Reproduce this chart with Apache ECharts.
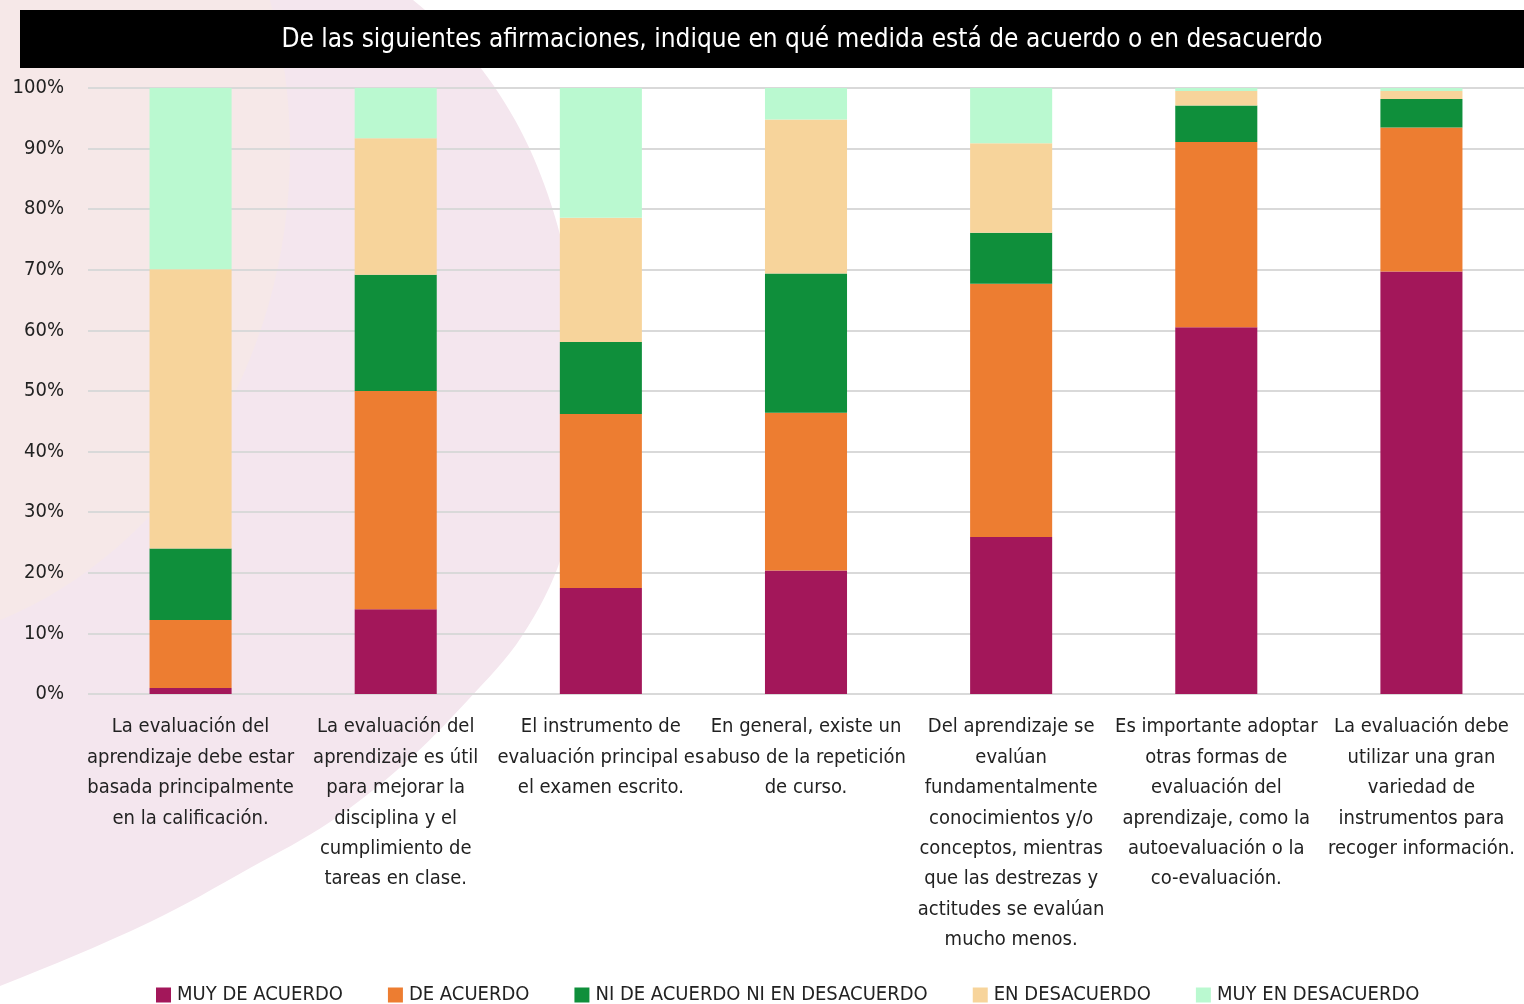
<!DOCTYPE html>
<html>
<head>
<meta charset="utf-8">
<script src="https://cdn.jsdelivr.net/npm/echarts@6/dist/echarts.min.js"></script>
<style>
html,body{margin:0;padding:0;background:#ffffff;}
#chart{width:1524px;height:1004px;}
</style>
</head>
<body>
<div id="chart"></div>
<script>
var titleText = 'De las siguientes afirmaciones, indique en qué medida está de acuerdo o en desacuerdo';
var categories = [
  'La evaluación del\naprendizaje debe estar\nbasada principalmente\nen la calificación.',
  'La evaluación del\naprendizaje es útil\npara mejorar la\ndisciplina y el\ncumplimiento de\ntareas en clase.',
  'El instrumento de\nevaluación principal es\nel examen escrito.',
  'En general, existe un\nabuso de la repetición\nde curso.',
  'Del aprendizaje se\nevalúan\nfundamentalmente\nconocimientos y/o\nconceptos, mientras\nque las destrezas y\nactitudes se evalúan\nmucho menos.',
  'Es importante adoptar\notras formas de\nevaluación del\naprendizaje, como la\nautoevaluación o la\nco-evaluación.',
  'La evaluación debe\nutilizar una gran\nvariedad de\ninstrumentos para\nrecoger información.'
];
var seriesNames = ['MUY DE ACUERDO', 'DE ACUERDO', 'NI DE ACUERDO NI EN DESACUERDO', 'EN DESACUERDO', 'MUY EN DESACUERDO'];
var muyDeAcuerdo     = [1.0, 14.0, 17.5, 20.4, 25.9, 60.5, 69.7];
var deAcuerdo        = [11.2, 36.0, 28.7, 26.0, 41.8, 30.6, 23.8];
var niNi             = [11.8, 19.2, 11.9, 23.0, 8.4, 6.0, 4.7];
var enDesacuerdo     = [46.1, 22.5, 20.5, 25.4, 14.8, 2.4, 1.3];
var muyEnDesacuerdo  = [29.9, 8.3, 21.4, 5.2, 9.1, 0.5, 0.5];
var yTicks = [0, 10, 20, 30, 40, 50, 60, 70, 80, 90, 100];
var colors = ['#A3175A', '#ED7D31', '#0F8F3B', '#F7D49B', '#BAF9D0'];

var FONT = '"DejaVu Sans Condensed", "Liberation Sans Narrow", "Noto Sans", sans-serif';
var chart = echarts.init(document.getElementById('chart'), null, {renderer: 'canvas'});
var allData = [muyDeAcuerdo, deAcuerdo, niNi, enDesacuerdo, muyEnDesacuerdo];

// decorative background blob outline (not data)
var blob = [[-400, -400], [300, -80], [413, 0], [470, 55], [515, 120], [548, 195], [570, 280], [580, 370], [578, 460], [562, 555], [522, 636], [468, 700], [404, 764], [330, 822], [250, 868], [150, 922], [0, 986], [-150, 1040], [-400, 1100]];

var option = {
  backgroundColor: '#ffffff',
  animation: false,
  color: colors,
  graphic: [
    {type: 'polygon', z: -20, silent: true, shape: {points: blob, smooth: 0.35}, style: {fill: '#F4E6EE'}},
    {type: 'ellipse', z: -19, silent: true, shape: {cx: -150, cy: 150, rx: 440, ry: 500}, style: {fill: '#F6E8E8'}},
    {type: 'rect', z: 10, silent: true, shape: {x: 20, y: 10, width: 1504, height: 58}, style: {fill: '#000000'}},
    {type: 'text', z: 11, silent: true, x: 802, y: 40, style: {text: titleText, fill: '#ffffff', font: '26px ' + FONT, textAlign: 'center', textVerticalAlign: 'middle'}}
  ],
  grid: {left: 88, right: 0, top: 88, bottom: 310, containLabel: false},
  legend: {
    data: seriesNames,
    left: 151,
    top: 980,
    itemWidth: 15,
    itemHeight: 15,
    itemGap: 45,
    icon: 'rect',
    textStyle: {fontFamily: FONT, fontSize: 20, color: '#222222', padding: [0, 0, 0, 1]}
  },
  xAxis: {
    type: 'category',
    data: categories,
    axisLine: {show: false},
    axisTick: {show: false},
    axisLabel: {interval: 0, margin: 18, fontFamily: FONT, fontSize: 20, lineHeight: 30.4, color: '#222222', align: 'center', verticalAlign: 'top'}
  },
  yAxis: {
    type: 'value',
    min: 0, max: 100, interval: 10,
    axisLine: {show: false},
    axisTick: {show: false},
    splitLine: {lineStyle: {color: '#D9D9D9', width: 2}},
    axisLabel: {formatter: '{value}%', margin: 24, fontFamily: FONT, fontSize: 20, color: '#222222'}
  },
  series: seriesNames.map(function (n, i) {
    return {
      name: n,
      type: 'bar',
      stack: 'total',
      barWidth: '40%',
      data: allData[i],
      itemStyle: {color: colors[i]}
    };
  })
};
chart.setOption(option);
</script>
</body>
</html>
